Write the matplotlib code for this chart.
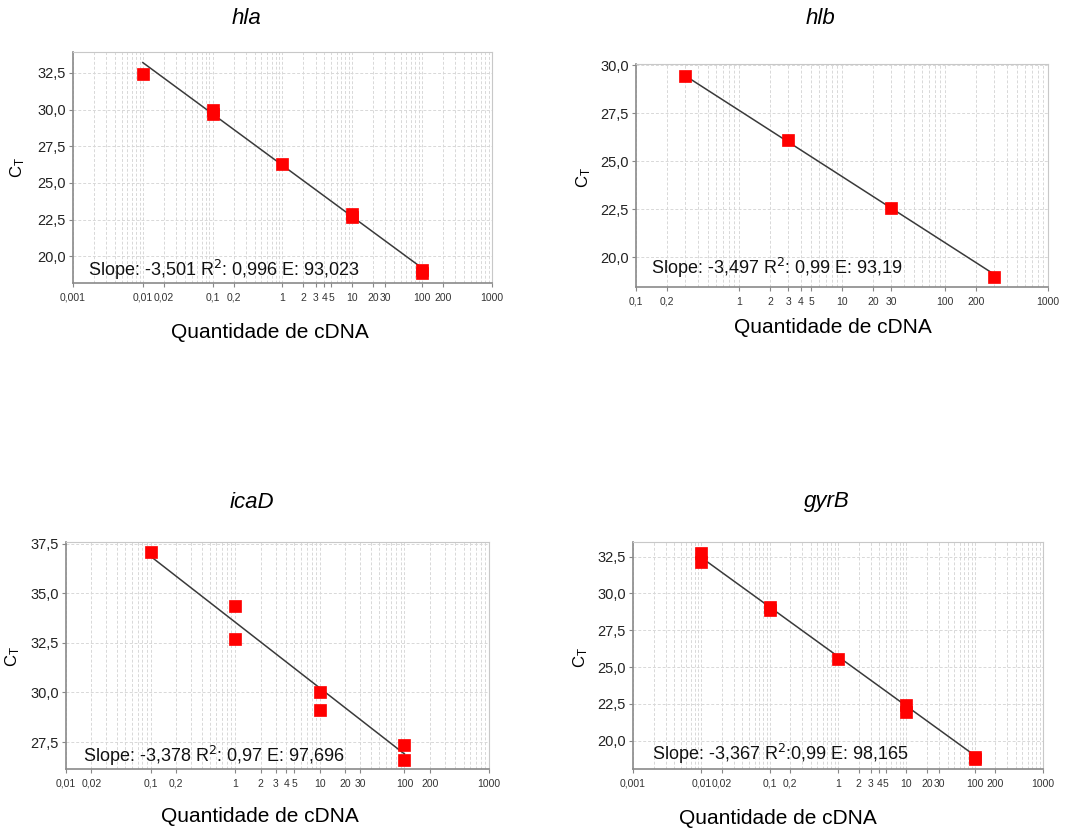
import numpy as np
import matplotlib
matplotlib.use('Agg')
import matplotlib.pyplot as plt
from matplotlib.ticker import FixedLocator, FixedFormatter, NullFormatter, LogLocator

plt.rcParams['font.family'] = ['Liberation Sans', 'DejaVu Sans']

# hla
hla_x = [0.01, 0.1, 0.1, 1, 10, 10, 100, 100]
hla_ct = [32.41, 29.95, 29.72, 26.3, 22.85, 22.65, 19.05, 18.85]
hla_slope, hla_icpt = -3.501, 26.2

# hlb
hlb_x = [0.3, 3, 30, 300]
hlb_ct = [29.46, 26.11, 22.59, 18.98]
hlb_slope, hlb_icpt = -3.45, 27.66

# icaD
icad_x = [0.1, 1, 1, 10, 10, 100, 100]
icad_ct = [37.08, 34.34, 32.68, 30.0, 29.13, 27.33, 26.61]
icad_slope, icad_icpt = -3.32, 33.54

# gyrB
gyrb_x = [0.01, 0.01, 0.1, 0.1, 1, 10, 10, 100, 100]
gyrb_ct = [32.77, 32.12, 29.1, 28.9, 25.56, 22.42, 21.94, 18.9, 18.75]
gyrb_slope, gyrb_icpt = -3.36, 25.72

tick_vals = [0.001, 0.01, 0.02, 0.1, 0.2, 1, 2, 3, 4, 5, 10, 20, 30, 100, 200, 1000]
tick_txt = ['0,001', '0,01', '0,02', '0,1', '0,2', '1', '2', '3', '4', '5',
            '10', '20', '30', '100', '200', '1000']

panels = [
    dict(name='hla', x=hla_x, y=hla_ct, m=hla_slope, b=hla_icpt,
         xlim=(0.001, 1000), ylim=(18.18, 33.93), yt=[20, 22.5, 25, 27.5, 30, 32.5],
         rect=[0.0675, 0.660, 0.387, 0.2776], title=(247, 18), xl=(270, 333),
         yl=(18, 168), tpos=(88, 270), txt='Slope: -3,501 R$^2$: 0,996 E: 93,023'),
    dict(name='hlb', x=hlb_x, y=hlb_ct, m=hlb_slope, b=hlb_icpt,
         xlim=(0.1, 1000), ylim=(18.45, 30.07), yt=[20, 22.5, 25, 27.5, 30],
         rect=[0.5878, 0.655, 0.3808, 0.268], title=(820, 18), xl=(833, 328),
         yl=(584, 178), tpos=(651, 268), txt='Slope: -3,497 R$^2$: 0,99 E: 93,19'),
    dict(name='icaD', x=icad_x, y=icad_ct, m=icad_slope, b=icad_icpt,
         xlim=(0.01, 1000), ylim=(26.14, 37.58), yt=[27.5, 30, 32.5, 35, 37.5],
         rect=[0.061, 0.0757, 0.391, 0.2728], title=(252, 503), xl=(260, 817),
         yl=(13, 657), tpos=(83, 756), txt='Slope: -3,378 R$^2$: 0,97 E: 97,696'),
    dict(name='gyrB', x=gyrb_x, y=gyrb_ct, m=gyrb_slope, b=gyrb_icpt,
         xlim=(0.001, 1000), ylim=(18.08, 33.49), yt=[20, 22.5, 25, 27.5, 30, 32.5],
         rect=[0.585, 0.0757, 0.379, 0.2728], title=(827, 502), xl=(778, 818),
         yl=(581, 658), tpos=(652, 754), txt='Slope: -3,367 R$^2$:0,99 E: 98,165'),
]

W, H = 1082, 832
fig = plt.figure(figsize=(W / 100, H / 100), dpi=100)

for p in panels:
    ax = fig.add_axes(p['rect'])
    ax.set_xscale('log')
    ax.set_xlim(*p['xlim'])
    ax.set_ylim(*p['ylim'])

    # linha de regressão
    xs = np.array([min(p['x']), max(p['x'])])
    ax.plot(xs, p['b'] + p['m'] * np.log10(xs), color='#3a3a3a', lw=1.1, zorder=3)
    ax.plot(p['x'], p['y'], 's', color='#ff0000', ms=8.3, mec='#ff0000', mew=0.5, zorder=4)

    # ticks
    vals = [v for v, t in zip(tick_vals, tick_txt) if p['xlim'][0] <= v <= p['xlim'][1]]
    txts = [t for v, t in zip(tick_vals, tick_txt) if p['xlim'][0] <= v <= p['xlim'][1]]
    ax.xaxis.set_major_locator(FixedLocator(vals))
    ax.xaxis.set_major_formatter(FixedFormatter(txts))
    ax.xaxis.set_minor_locator(LogLocator(base=10, subs=np.arange(1, 10), numticks=20))
    ax.xaxis.set_minor_formatter(NullFormatter())
    ax.set_yticks(p['yt'])
    ax.set_yticklabels([f'{v:.1f}'.replace('.', ',') for v in p['yt']])
    ax.tick_params(axis='x', which='major', labelsize=7.5, colors='#888888', labelcolor='#333333',
                   length=3, width=0.8, pad=4)
    ax.tick_params(axis='x', which='minor', length=0)
    ax.tick_params(axis='y', labelsize=10.5, colors='#888888', labelcolor='#222222',
                   length=3, width=0.8, pad=2)

    ax.grid(which='both', axis='x', color='#d8d8d8', ls=(0, (3, 2)), lw=0.7)
    ax.grid(which='major', axis='y', color='#d8d8d8', ls=(0, (3, 2)), lw=0.7)
    ax.set_axisbelow(True)
    for s in ['top', 'right']:
        ax.spines[s].set_color('#c8c8c8')
    for s in ['bottom', 'left']:
        ax.spines[s].set_color('#8a8a8a')
        ax.spines[s].set_linewidth(1.2)

    px, py = p['tpos']
    fig.text(px / W, 1 - py / H, p['txt'], fontsize=13, color='#111111',
             ha='left', va='center', zorder=5)

    tx, ty = p['title']
    fig.text(tx / W, 1 - ty / H, p['name'], fontsize=16, style='italic',
             ha='center', va='center')
    lx, ly = p['xl']
    fig.text(lx / W, 1 - ly / H, 'Quantidade de cDNA', fontsize=15,
             ha='center', va='center')
    yx, yy = p['yl']
    fig.text(yx / W, 1 - yy / H, r'C$\mathregular{_T}$', fontsize=12, rotation=90,
             ha='center', va='center')

fig.savefig('out.png', dpi=100)
